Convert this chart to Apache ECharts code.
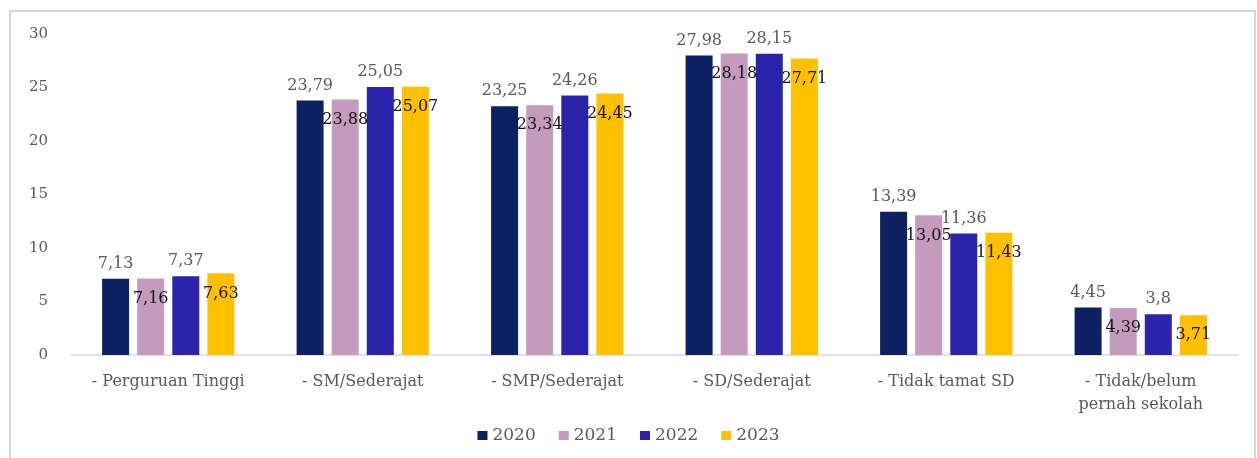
<!DOCTYPE html>
<html>
<head>
<meta charset="utf-8">
<script src="https://cdn.jsdelivr.net/npm/echarts@6/dist/echarts.min.js"></script>
<style>
  html, body { margin: 0; padding: 0; background: #ffffff; }
  #wrap { position: relative; width: 1257px; height: 458px; overflow: hidden; }
  #frame { position: absolute; left: 9px; top: 10px; width: 1247px; height: 470px;
           border: 2px solid #d4d4d4; box-sizing: border-box; }
  #chart { position: absolute; left: 0; top: 0; width: 1257px; height: 458px; }
</style>
</head>
<body>
<div id="wrap">
  <div id="frame"></div>
  <div id="chart"></div>
</div>
<script>
// Education level categories
const categories = [
  '- Perguruan Tinggi',
  '- SM/Sederajat',
  '- SMP/Sederajat',
  '- SD/Sederajat',
  '- Tidak tamat SD',
  '- Tidak/belum\npernah sekolah'
];

// Share per year (%)
const years = ['2020', '2021', '2022', '2023'];
const values2020 = [7.13, 23.79, 23.25, 27.98, 13.39, 4.45];
const values2021 = [7.16, 23.88, 23.34, 28.18, 13.05, 4.39];
const values2022 = [7.37, 25.05, 24.26, 28.15, 11.36, 3.80];
const values2023 = [7.63, 25.07, 24.45, 27.71, 11.43, 3.71];

const yTicks = [0, 5, 10, 15, 20, 25, 30];

const colors = ['#0c2062', '#c49bbd', '#2b23aa', '#ffc000'];
const FONT = '"DejaVu Serif", "Liberation Serif", serif';

const fmt = v => String(v.value).replace('.', ',');

function makeSeries(name, data, idx) {
  const above = idx % 2 === 0;
  return {
    name: name,
    type: 'bar',
    data: data,
    barWidth: 27,
    barGap: '30%',
    itemStyle: { color: colors[idx] },
    label: {
      show: true,
      position: above ? 'top' : 'insideTop',
      distance: above ? 7 : 12,
      formatter: fmt,
      fontFamily: FONT,
      fontSize: 16,
      color: above ? '#595959' : '#141414'
    }
  };
}

const chart = echarts.init(document.getElementById('chart'), null, { renderer: 'canvas' });
chart.setOption({
  animation: false,
  textStyle: { fontFamily: FONT },
  grid: { left: 71, right: 19, top: 34, bottom: 103, containLabel: false },
  legend: {
    data: years,
    bottom: 9,
    left: 'center',
    itemWidth: 10,
    itemHeight: 9,
    itemGap: 23,
    icon: 'rect',
    textStyle: { fontFamily: FONT, fontSize: 17, color: '#595959' }
  },
  xAxis: {
    type: 'category',
    data: categories,
    axisLine: { lineStyle: { color: '#d9d9d9', width: 1.5 } },
    axisTick: { show: false },
    axisLabel: {
      margin: 15,
      fontFamily: FONT,
      fontSize: 16,
      color: '#595959',
      lineHeight: 23,
      interval: 0
    }
  },
  yAxis: {
    type: 'value',
    min: yTicks[0],
    max: yTicks[yTicks.length - 1],
    interval: 5,
    axisLine: { show: false },
    axisTick: { show: false },
    splitLine: { show: false },
    axisLabel: {
      margin: 23,
      fontFamily: FONT,
      fontSize: 15,
      color: '#595959'
    }
  },
  series: [
    makeSeries(years[0], values2020, 0),
    makeSeries(years[1], values2021, 1),
    makeSeries(years[2], values2022, 2),
    makeSeries(years[3], values2023, 3)
  ]
});
</script>
</body>
</html>
